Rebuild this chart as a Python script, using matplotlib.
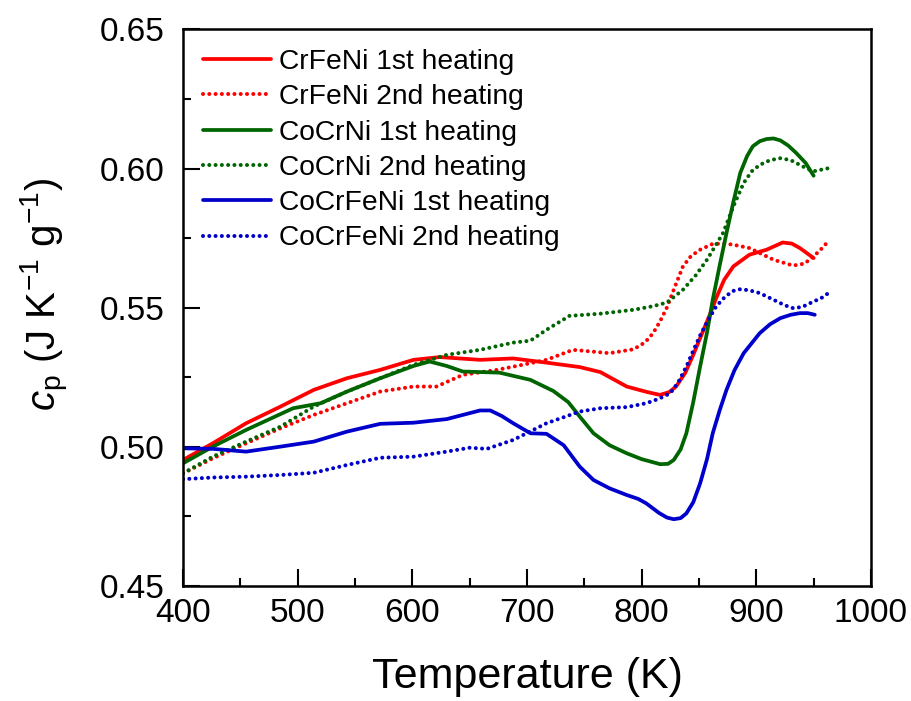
import matplotlib
matplotlib.use("Agg")
import matplotlib.pyplot as plt
from matplotlib.ticker import MultipleLocator

plt.rcParams['font.family'] = ['Liberation Sans', 'DejaVu Sans']
plt.rcParams['mathtext.fontset'] = 'custom'
plt.rcParams['mathtext.rm'] = 'Liberation Sans'
plt.rcParams['mathtext.it'] = 'Liberation Sans:italic'

# ---- data ----
crfeni_1_T = [400, 426, 455, 485, 514, 543, 572, 601, 624, 659, 688, 717, 746, 764, 787, 805, 816, 824, 830, 838, 845, 852, 860, 865, 872, 880, 894, 909, 923, 931, 938, 950]
crfeni_1_cp = [0.4952, 0.5012, 0.5084, 0.5144, 0.5204, 0.5246, 0.5276, 0.5312, 0.5322, 0.5312, 0.5317, 0.5302, 0.5286, 0.5268, 0.5216, 0.5196, 0.5186, 0.5196, 0.5216, 0.5265, 0.5330, 0.5400, 0.5480, 0.5534, 0.5600, 0.5648, 0.5690, 0.5708, 0.5734, 0.5730, 0.5714, 0.5678]

crfeni_2_T = [400, 426, 455, 485, 514, 543, 572, 601, 621, 644, 674, 703, 717, 740, 772, 793, 803, 810, 816, 822, 829, 836, 843, 851, 862, 872, 880, 894, 905, 915, 932, 942, 950, 957, 964]
crfeni_2_cp = [0.4904, 0.4958, 0.5012, 0.5066, 0.5114, 0.5156, 0.5198, 0.5216, 0.5216, 0.5258, 0.5276, 0.5300, 0.5312, 0.5348, 0.5336, 0.5350, 0.5375, 0.5408, 0.5450, 0.5500, 0.5575, 0.5648, 0.5685, 0.5708, 0.5729, 0.5730, 0.5726, 0.5714, 0.5692, 0.5672, 0.5651, 0.5658, 0.5684, 0.5712, 0.5744]

cocrni_1_T = [400, 426, 455, 496, 520, 543, 572, 601, 615, 630, 644, 676, 703, 723, 736, 746, 758, 772, 787, 800, 816, 823, 828, 834, 839, 845, 851, 857, 862, 868, 874, 880, 886, 892, 897, 903, 909, 915, 921, 928, 935, 943, 950]
cocrni_1_cp = [0.4940, 0.5000, 0.5060, 0.5138, 0.5156, 0.5198, 0.5246, 0.5290, 0.5306, 0.5290, 0.5270, 0.5266, 0.5240, 0.5200, 0.5160, 0.5108, 0.5048, 0.5005, 0.4976, 0.4955, 0.4937, 0.4938, 0.4952, 0.4990, 0.5048, 0.5160, 0.5288, 0.5410, 0.5528, 0.5650, 0.5768, 0.5880, 0.5984, 0.6045, 0.6080, 0.6098, 0.6106, 0.6108, 0.6101, 0.6082, 0.6055, 0.6020, 0.5974]

cocrni_2_T = [400, 426, 455, 485, 514, 543, 572, 601, 630, 659, 688, 703, 717, 737, 764, 793, 810, 822, 836, 847, 857, 864, 871, 880, 889, 896, 903, 912, 921, 930, 938, 944, 950, 957, 964]
cocrni_2_cp = [0.4904, 0.4964, 0.5018, 0.5072, 0.5144, 0.5198, 0.5246, 0.5294, 0.5330, 0.5348, 0.5374, 0.5381, 0.5420, 0.5470, 0.5478, 0.5492, 0.5505, 0.5518, 0.5564, 0.5615, 0.5672, 0.5720, 0.5768, 0.5864, 0.5948, 0.5990, 0.6013, 0.6030, 0.6037, 0.6030, 0.6013, 0.6000, 0.5990, 0.5996, 0.6002]

cocrfeni_1_T = [400, 426, 455, 485, 514, 543, 572, 601, 630, 659, 668, 678, 688, 703, 717, 732, 746, 758, 772, 787, 797, 804, 815, 822, 828, 834, 839, 845, 851, 857, 862, 868, 874, 881, 889, 903, 912, 921, 930, 938, 945, 951]
cocrfeni_1_cp = [0.4994, 0.4992, 0.4982, 0.5000, 0.5018, 0.5054, 0.5082, 0.5086, 0.5099, 0.5130, 0.5130, 0.5110, 0.5084, 0.5048, 0.5046, 0.5005, 0.4928, 0.4880, 0.4850, 0.4826, 0.4812, 0.4796, 0.4762, 0.4745, 0.4739, 0.4743, 0.4760, 0.4800, 0.4868, 0.4955, 0.5048, 0.5130, 0.5204, 0.5275, 0.5336, 0.5408, 0.5440, 0.5462, 0.5474, 0.5480, 0.5480, 0.5474]

cocrfeni_2_T = [400, 426, 455, 485, 514, 543, 572, 601, 630, 650, 665, 688, 717, 746, 764, 787, 804, 815, 825, 832, 839, 845, 851, 858, 865, 873, 880, 886, 894, 903, 915, 925, 932, 940, 947, 957, 966]
cocrfeni_2_cp = [0.4883, 0.4889, 0.4892, 0.4898, 0.4906, 0.4934, 0.4960, 0.4964, 0.4982, 0.4996, 0.4992, 0.5024, 0.5084, 0.5126, 0.5138, 0.5142, 0.5156, 0.5172, 0.5192, 0.5232, 0.5288, 0.5345, 0.5400, 0.5455, 0.5504, 0.5540, 0.5560, 0.5566, 0.5562, 0.5552, 0.5528, 0.5508, 0.5498, 0.5502, 0.5516, 0.5535, 0.5561]

labels = ["CrFeNi 1st heating", "CrFeNi 2nd heating",
          "CoCrNi 1st heating", "CoCrNi 2nd heating",
          "CoCrFeNi 1st heating", "CoCrFeNi 2nd heating"]

fig = plt.figure(figsize=(9.12, 7.01), dpi=100)
ax = fig.add_axes([0.2007, 0.1645, 0.7543, 0.7935])

red, green, blue = '#ff0000', '#006400', '#0000cc'
series = [
    (crfeni_1_T, crfeni_1_cp, red, '-'),
    (crfeni_2_T, crfeni_2_cp, red, ':'),
    (cocrni_1_T, cocrni_1_cp, green, '-'),
    (cocrni_2_T, cocrni_2_cp, green, ':'),
    (cocrfeni_1_T, cocrfeni_1_cp, blue, '-'),
    (cocrfeni_2_T, cocrfeni_2_cp, blue, ':'),
]
for (T, cp, c, ls), lab in zip(series, labels):
    if ls == '-':
        ax.plot(T, cp, color=c, lw=2.7, ls='-', label=lab,
                solid_capstyle='round', solid_joinstyle='round')
    else:
        ax.plot(T, cp, color=c, lw=2.9, ls=(0, (0.01, 1.55)),
                dash_capstyle='round', label=lab)

ax.set_xlim(400, 1000)
ax.set_ylim(0.45, 0.65)
ax.xaxis.set_major_locator(MultipleLocator(100))
ax.xaxis.set_minor_locator(MultipleLocator(50))
ax.yaxis.set_major_locator(MultipleLocator(0.05))
ax.yaxis.set_minor_locator(MultipleLocator(0.025))
ax.tick_params(which='both', direction='in', top=False, right=False, labelsize=24, width=1.5)
ax.tick_params(axis='x', which='major', length=12, pad=9)
ax.tick_params(axis='y', which='major', length=12, pad=13)
ax.tick_params(which='minor', length=6)
ax.set_yticks([0.45, 0.50, 0.55, 0.60, 0.65])
ax.set_yticklabels(["0.45", "0.50", "0.55", "0.60", "0.65"])
for s in ax.spines.values():
    s.set_linewidth(1.8)

ax.set_xlabel("Temperature (K)", fontsize=31)
ax.xaxis.set_label_coords(0.5, -0.128)
ax.set_ylabel(r"$c_\mathrm{p}$ (J K$^{-1}$ g$^{-1}$)", fontsize=29)
ax.yaxis.set_label_coords(-0.163, 0.523)

ax.legend(loc='upper left', frameon=False, fontsize=20.3, handlelength=2.4,
          handletextpad=0.3, labelspacing=0.33, borderaxespad=0.0, borderpad=0.0,
          bbox_to_anchor=(0.029, 0.965))

fig.savefig("out.png", dpi=100)
